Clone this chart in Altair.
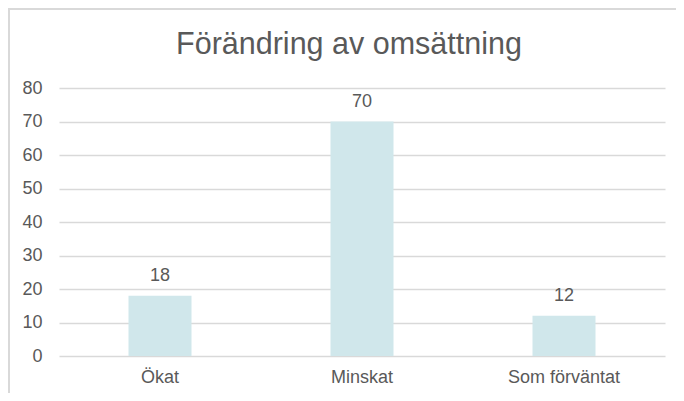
import altair as alt
import pandas as pd

categories = ["Ökat", "Minskat", "Som förväntat"]
values = [18, 70, 12]
y_ticks = [0, 10, 20, 30, 40, 50, 60, 70, 80]
title_text = "Förändring av omsättning"

df = pd.DataFrame({"cat": categories, "val": values})

FONT = "Liberation Sans"
TXT = "#595959"
GRID = "#d9d9d9"
BAR = "#d0e7eb"

x_enc = alt.X("cat:N", sort=categories, title=None,
              scale=alt.Scale(paddingInner=0, paddingOuter=0),
              axis=alt.Axis(labelAngle=0, labelFont=FONT, labelFontSize=18,
                            labelColor=TXT, labelPadding=12, ticks=False,
                            domain=False, grid=False))
y_enc = alt.Y("val:Q", title=None,
              scale=alt.Scale(domain=[0, 80], nice=False),
              axis=alt.Axis(values=y_ticks, labelFont=FONT, labelFontSize=18,
                            labelColor=TXT, labelPadding=17, ticks=False,
                            labelOverlap=False,
                            domain=False, grid=True, gridColor=GRID,
                            gridWidth=1.5))

base = alt.Chart(df)
bars = base.mark_bar(size=63, color=BAR).encode(x=x_enc, y=y_enc)
labels = base.mark_text(font=FONT, fontSize=18, color=TXT, baseline="alphabetic",
                        dy=-15).encode(x=x_enc, y=y_enc, text="val:Q")

one = alt.Chart(pd.DataFrame({"t": [title_text]}))
title = one.mark_text(font=FONT, fontSize=30.5, color=TXT, align="center",
                      baseline="alphabetic").encode(
    x=alt.value(290), y=alt.value(-34), text="t:N")
border_left = one.mark_rule(color=GRID, strokeWidth=2).encode(
    x=alt.value(-50), y=alt.value(-79), y2=alt.value(340))
border_top = one.mark_rule(color=GRID, strokeWidth=2).encode(
    x=alt.value(-51), x2=alt.value(640), y=alt.value(-79))

chart = alt.layer(bars, labels, title, border_left, border_top).properties(
    width=606, height=268,
    autosize=alt.AutoSizeParams(type="none"),
    padding={"left": 51, "top": 80, "right": 11, "bottom": 37},
).configure_view(stroke=None)

chart.save("out.html", embed_options={"renderer": "svg", "actions": False})
